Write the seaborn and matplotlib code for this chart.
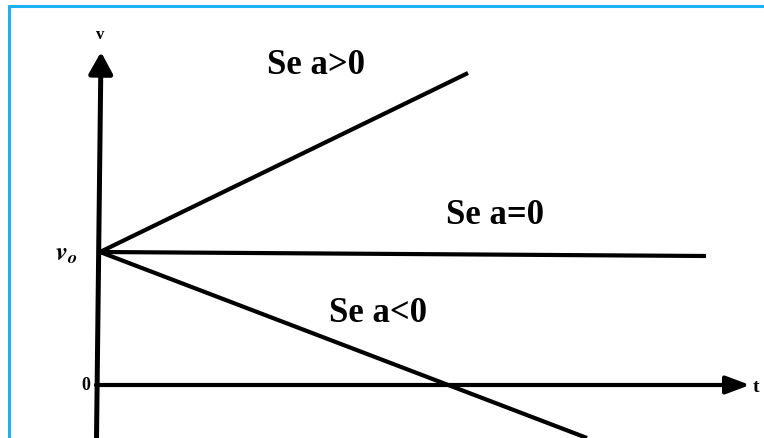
import matplotlib
matplotlib.use("Agg")
import matplotlib.pyplot as plt
from matplotlib.lines import Line2D
import pandas as pd
import seaborn as sns

sns.set_theme(style="white")
plt.rcParams["font.family"] = ["Liberation Serif", "DejaVu Serif"]
plt.rcParams["mathtext.fontset"] = "stix"
plt.rcParams["text.color"] = "black"

# Velocity-time lines for the three acceleration cases (start and end points)
cases = ["Se a>0", "Se a=0", "Se a<0"]
t_start = [0.0, 0.0, 0.0]
v_start = [13.3, 13.3, 13.3]
t_end = [36.8, 60.6, 48.7]
v_end = [31.2, 12.9, -5.3]

# Label anchor per case
label_t = [21.6, 39.5, 27.8]
label_v = [31.9, 16.9, 7.2]

v0_label = r"$\mathbfit{v_o}$"
zero_label = "0"

rows = []
for c, ts, vs, te, ve in zip(cases, t_start, v_start, t_end, v_end):
    rows.append({"case": c, "t": ts, "v": vs})
    rows.append({"case": c, "t": te, "v": ve})
df = pd.DataFrame(rows)

fig = plt.figure(figsize=(7.64, 4.38), dpi=100)
ax = fig.add_axes([0, 0, 1, 1])
ax.set_xlim(-10, 66.4)
ax.set_ylim(-5.3, 38.5)
ax.axis("off")

sns.lineplot(data=df, x="t", y="v", hue="case", units="case", estimator=None,
             palette=["black"] * len(cases), lw=3.0, legend=False, ax=ax,
             solid_capstyle="butt")

# Axes with arrowheads
ax.annotate("", xy=(0.1, 33.3), xytext=(-0.35, -5.4),
            arrowprops=dict(arrowstyle="-|>,head_length=0.65,head_width=0.36",
                            mutation_scale=20, lw=3.6, color="black",
                            shrinkA=0, shrinkB=0))
ax.annotate("", xy=(65.0, 0.0), xytext=(-0.4, 0.0),
            arrowprops=dict(arrowstyle="-|>,head_length=0.72,head_width=0.27",
                            mutation_scale=20, lw=3.0, color="black",
                            shrinkA=0, shrinkB=0))

ax.text(0.0, 35.0, "v", fontsize=12, fontweight="bold", ha="center", va="center",
        color="black")
ax.text(65.3, -0.3, "t", fontsize=14, fontweight="bold", ha="left", va="center",
        color="black")
ax.text(-1.4, 0.0, zero_label, fontsize=13, fontweight="bold", ha="center",
        va="center", color="black")
ax.text(-3.4, 13.0, v0_label, fontsize=19, ha="center", va="center", color="black")

for c, lt, lv in zip(cases, label_t, label_v):
    ax.text(lt, lv, c, fontsize=25, fontweight="bold", ha="center", va="center",
            color="black")

# Light blue frame
frame_color = "#1ab2f4"
fig.add_artist(Line2D([9 / 764, 9 / 764], [0, 1 - 6 / 438], color=frame_color,
                      lw=2.2, transform=fig.transFigure))
fig.add_artist(Line2D([9 / 764, 1], [1 - 6 / 438, 1 - 6 / 438], color=frame_color,
                      lw=2.2, transform=fig.transFigure))

fig.savefig("out.png", dpi=100, facecolor="white")
